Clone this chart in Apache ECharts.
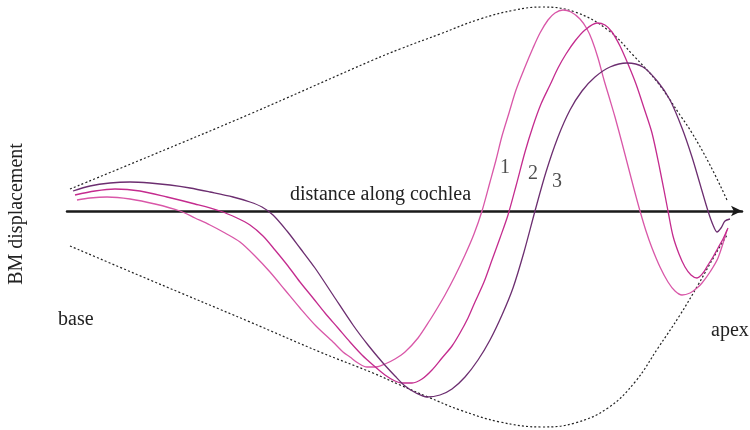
<!DOCTYPE html>
<html>
<head>
<meta charset="utf-8">
<title>Travelling wave along the cochlea</title>
<script src="https://cdn.jsdelivr.net/npm/echarts@6/dist/echarts.min.js"></script>
<style>
  html, body { margin: 0; padding: 0; background: #ffffff; }
  #chart { width: 750px; height: 430px; }
</style>
</head>
<body>
<div id="chart"></div>
<script>
// Basilar-membrane displacement snapshots: [distance from base, displacement]
var wave1 = [[10,11],[23,13],[40,14],[63,12],[88,7],[113,0],[128,-7],[143,-14],[158,-22],[173,-31],[188,-45],[203,-61],[218,-79],[233,-97],[249,-115],[266,-131],[276,-141],[283,-146],[291,-152],[300,-156],[309,-156],[318,-153],[328,-148],[338,-141],[351,-127],[363,-109],[371,-96],[378,-84],[388,-65],[398,-44],[407,-23],[415,0],[423,29],[429,51],[435,75],[442,98],[449,121],[458,144],[466,163],[473,178],[481,191],[488,198],[496,201],[504,199],[513,192],[520,182],[525,171],[531,153],[537,131],[543,111],[548,94],[555,68],[561,45],[567,22],[573,0],[579,-20],[585,-37],[593,-56],[601,-71],[608,-80],[615,-84],[623,-82],[630,-77],[635,-72],[643,-61],[651,-47],[660,-19]];
var wave2 = [[8,16],[28,20],[48,22],[73,20],[100,14],[128,7],[153,0],[170,-7],[183,-14],[196,-25],[208,-39],[221,-55],[233,-71],[246,-87],[258,-102],[271,-117],[283,-131],[295,-144],[306,-154],[318,-164],[328,-170],[335,-172],[345,-172],[355,-168],[365,-159],[375,-147],[385,-135],[393,-122],[401,-107],[408,-91],[417,-71],[425,-49],[433,-27],[441,-4],[449,25],[458,59],[466,85],[474,107],[483,126],[491,143],[499,157],[508,170],[518,181],[530,188],[538,186],[545,179],[553,165],[561,147],[569,127],[577,103],[585,78],[593,41],[601,0],[606,-25],[612,-43],[618,-56],[624,-64],[630,-67],[636,-62],[641,-54],[646,-46],[651,-37],[656,-28],[661,-17]];
var wave3 = [[6,20],[23,25],[43,28],[63,29],[83,28],[103,26],[123,23],[143,19],[166,14],[183,9],[195,4],[206,-4],[220,-20],[233,-37],[248,-57],[266,-84],[286,-114],[301,-134],[316,-152],[328,-165],[338,-175],[349,-182],[360,-186],[373,-184],[385,-178],[398,-166],[411,-149],[423,-129],[435,-104],[446,-77],[457,-41],[468,0],[479,39],[491,74],[503,101],[515,120],[528,134],[543,144],[560,148],[576,144],[591,129],[603,111],[615,83],[625,54],[633,27],[641,0],[646,-14],[650,-21],[654,-17],[658,-10],[663,-8]];
// Envelope of the travelling wave
var envelopeUpper = [[3,22],[83,55],[183,97],[306,151],[333,162],[373,177],[413,192],[448,201],[475,204],[508,199],[541,181],[566,156],[591,128],[613,96],[625,78],[643,46],[660,11]];
var envelopeLower = [[3,-35],[83,-69],[183,-111],[253,-141],[306,-162],[333,-174],[361,-186],[393,-199],[433,-211],[475,-216],[508,-212],[541,-197],[568,-171],[591,-137],[613,-104],[631,-74],[648,-44],[660,-24]];
// Curve numbers and where they sit
var waveNames = ['1', '2', '3'];
var waveNamePos = [[438,43],[466,37],[490,29]];
var waveColors = ['#d957a8', '#c42b8e', '#6c2e70'];

var serif = '"Liberation Serif", "DejaVu Serif", serif';
var chart = echarts.init(document.getElementById('chart'), null, { renderer: 'canvas' });

function waveSeries(name, data, color) {
  return {
    name: name, type: 'line', data: data, smooth: 0.3, symbol: 'none',
    lineStyle: { color: color, width: 1.3 }, z: 3, silent: true
  };
}
function envelopeSeries(name, data) {
  return {
    name: name, type: 'line', data: data, smooth: 0.4, symbol: 'none',
    lineStyle: { color: '#222', width: 1.2, type: [2, 2.2] }, z: 2, silent: true
  };
}

chart.setOption({
  animation: false,
  backgroundColor: '#ffffff',
  grid: { left: 67, right: 8, top: 0, bottom: 0 },
  xAxis: {
    type: 'value', min: 0, max: 675,
    axisLine: { show: true, onZero: true, symbol: ['none', 'arrow'], symbolSize: [8, 11],
      lineStyle: { color: '#1a1a1a', width: 2.5 } },
    axisTick: { show: false }, axisLabel: { show: false }, splitLine: { show: false }
  },
  yAxis: {
    type: 'value', min: -219, max: 211,
    axisLine: { show: false }, axisTick: { show: false },
    axisLabel: { show: false }, splitLine: { show: false }
  },
  series: [
    envelopeSeries('upper envelope', envelopeUpper),
    envelopeSeries('lower envelope', envelopeLower),
    waveSeries('1', wave1, waveColors[0]),
    waveSeries('2', wave2, waveColors[1]),
    waveSeries('3', wave3, waveColors[2]),
    {
      name: 'curve numbers', type: 'scatter', symbolSize: 0, silent: true, z: 4,
      data: waveNamePos.map(function (p, i) { return { value: p, name: waveNames[i] }; }),
      label: {
        show: true, position: 'inside', formatter: '{b}',
        fontFamily: serif, fontSize: 20, color: '#222'
      }
    }
  ],
  graphic: [
    { type: 'text', x: 290, y: 195, style: { text: 'distance along cochlea', font: '20px ' + serif, fill: '#222', verticalAlign: 'middle', align: 'left' } },
    { type: 'text', x: 58, y: 320, style: { text: 'base', font: '20px ' + serif, fill: '#222', verticalAlign: 'middle', align: 'left' } },
    { type: 'text', x: 711, y: 331, style: { text: 'apex', font: '20px ' + serif, fill: '#222', verticalAlign: 'middle', align: 'left' } },
    { type: 'text', x: 17, y: 214, rotation: Math.PI / 2, style: { text: 'BM displacement', font: '20px ' + serif, fill: '#222', verticalAlign: 'middle', align: 'center' } }
  ]
});
</script>
</body>
</html>
